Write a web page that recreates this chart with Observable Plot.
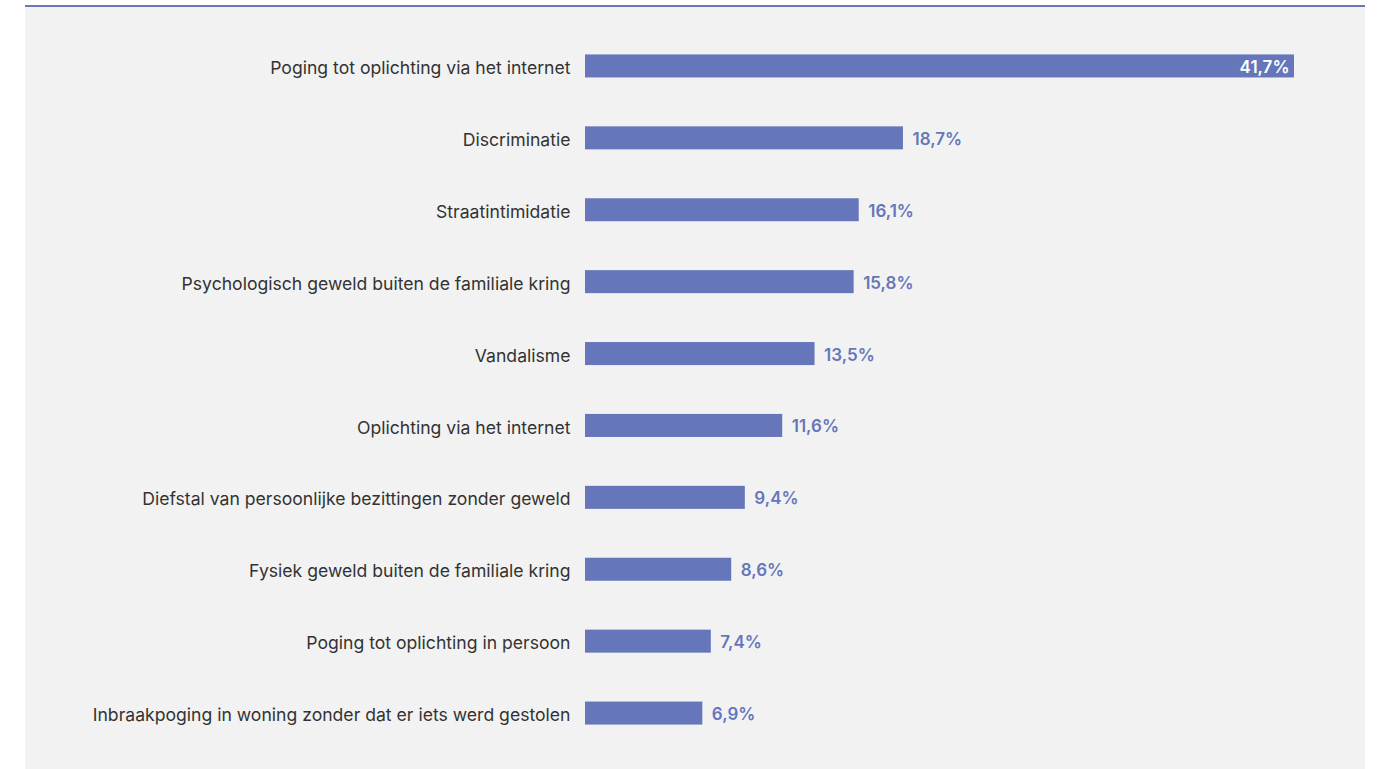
<!DOCTYPE html>
<html>
<head>
<meta charset="utf-8">
<script src="https://cdn.jsdelivr.net/npm/d3@7"></script>
<script src="https://cdn.jsdelivr.net/npm/@observablehq/plot@0.6"></script>
<style>
  html, body { margin: 0; padding: 0; background: #ffffff; }
  #wrap { position: relative; width: 1392px; height: 769px; overflow: hidden; }
  #panel { position: absolute; left: 25px; top: 5px; width: 1340px; height: 764px; background: #f2f2f2; border-top: 2px solid #6677bb; }
  #chart { position: absolute; left: 0; top: 0; }
  #chart svg { background: transparent; }
</style>
</head>
<body>
<div id="wrap">
  <div id="panel"></div>
  <div id="chart"></div>
</div>
<script>
const categories = [
  "Poging tot oplichting via het internet",
  "Discriminatie",
  "Straatintimidatie",
  "Psychologisch geweld buiten de familiale kring",
  "Vandalisme",
  "Oplichting via het internet",
  "Diefstal van persoonlijke bezittingen zonder geweld",
  "Fysiek geweld buiten de familiale kring",
  "Poging tot oplichting in persoon",
  "Inbraakpoging in woning zonder dat er iets werd gestolen"
];
const values = [41.7, 18.7, 16.1, 15.8, 13.5, 11.6, 9.4, 8.6, 7.4, 6.9];

const data = categories.map((c, i) => ({ category: c, value: values[i] }));
const fmt = v => d3.format(".1f")(v).replace(".", ",") + "%";
const maxV = d3.max(values);
const barColor = "#6577ba";

const chart = Plot.plot({
  width: 1392,
  height: 769,
  marginLeft: 585,
  marginRight: 98,
  marginTop: 30,
  marginBottom: 20,
  style: { fontFamily: "Inter, 'Noto Sans', sans-serif", background: "transparent" },
  x: { domain: [0, maxV], axis: null },
  y: { domain: categories, paddingInner: 0.68, paddingOuter: 0.34, round: false, axis: null },
  marks: [
    Plot.barX(data, { x: "value", y: "category", fill: barColor }),
    Plot.text(data, {
      x: 0, y: "category", text: "category", textAnchor: "end", dx: -15, dy: 2,
      fontSize: 17.6, fill: "#333333"
    }),
    Plot.text(data.filter(d => d.value === maxV), {
      x: "value", y: "category", text: d => fmt(d.value), textAnchor: "end", dx: -5, dy: 1,
      fontSize: 17, fontWeight: 600, fill: "#ffffff"
    }),
    Plot.text(data.filter(d => d.value !== maxV), {
      x: "value", y: "category", text: d => fmt(d.value), textAnchor: "start", dx: 9, dy: 1,
      fontSize: 17, fontWeight: 600, fill: barColor
    })
  ]
});
document.getElementById("chart").appendChild(chart);
</script>
</body>
</html>
